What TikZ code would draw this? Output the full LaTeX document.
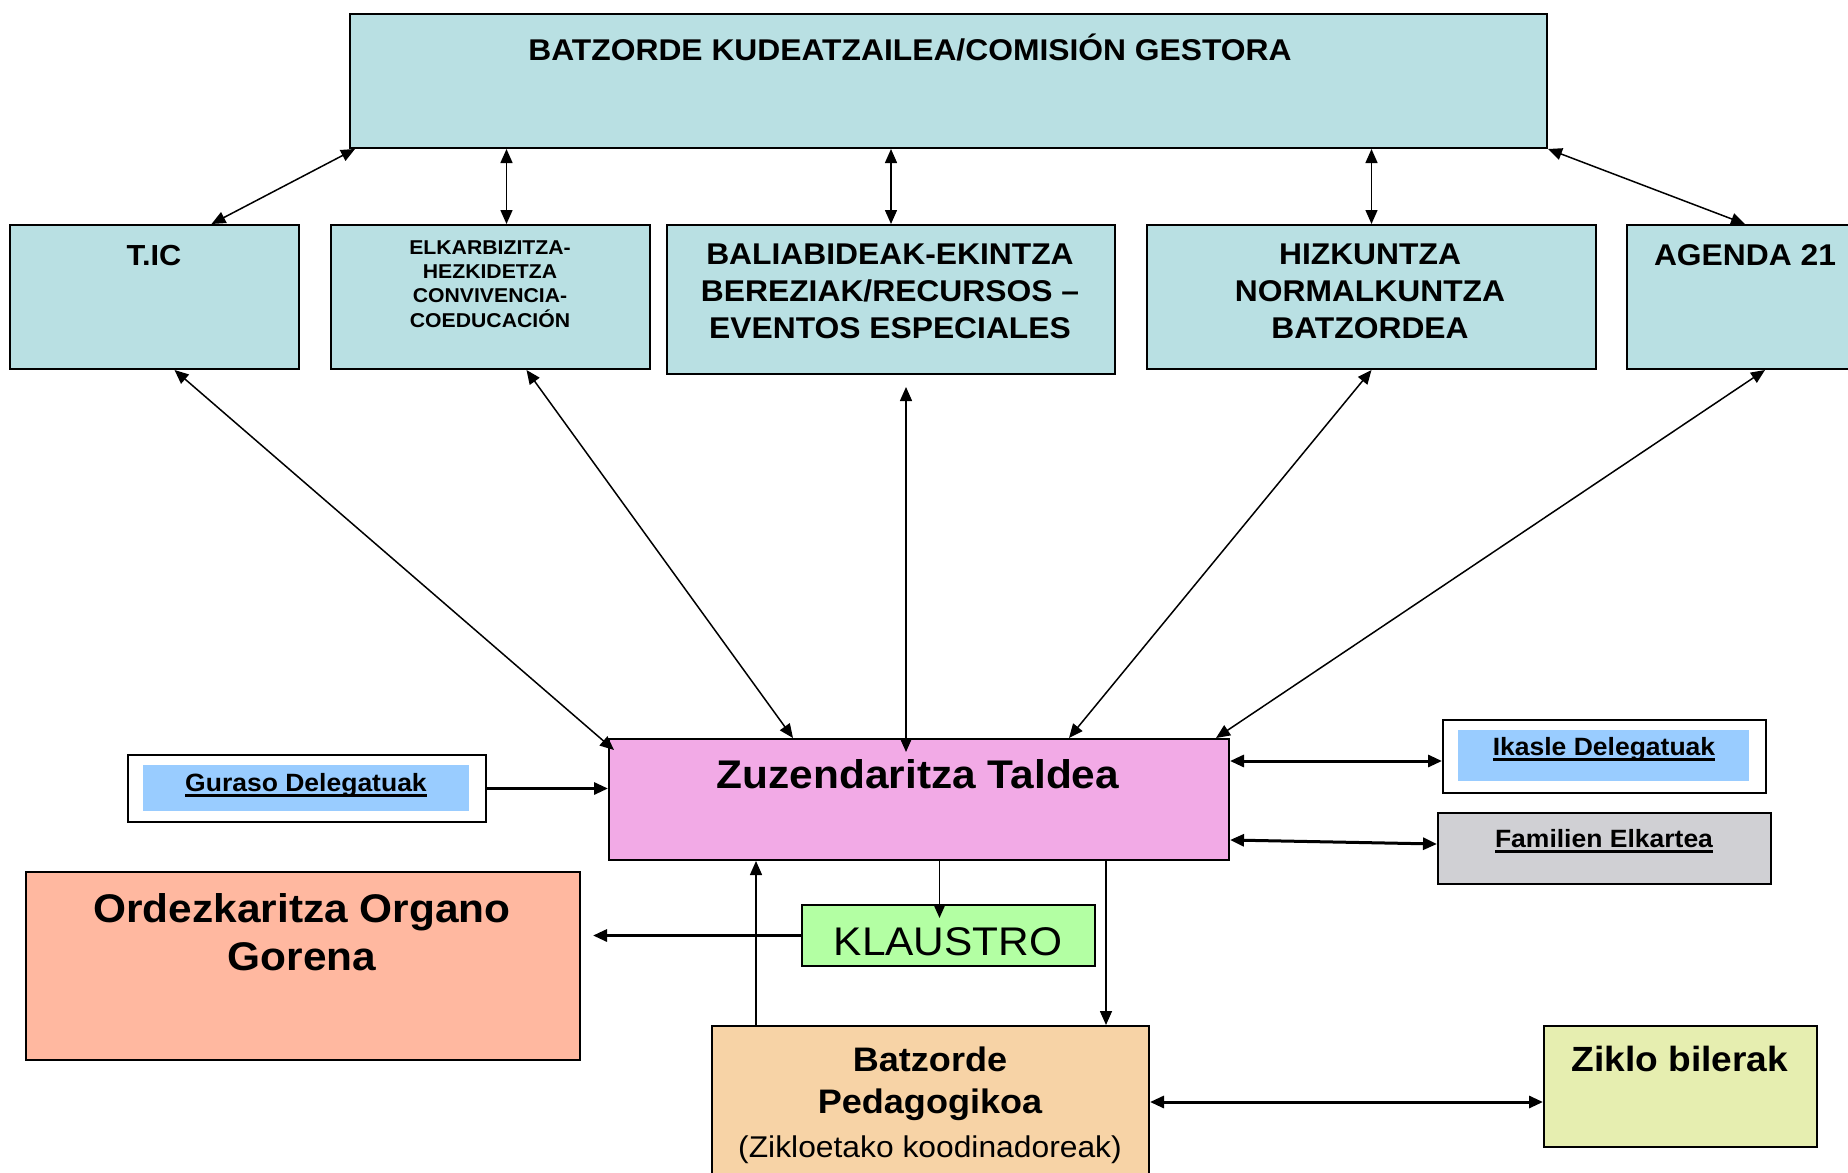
\documentclass[tikz,border=0pt]{standalone}
\usepackage{fontspec}
\setmainfont{Liberation Sans}[FakeStretch=1.06]
\usetikzlibrary{arrows.meta}
\definecolor{cyanbox}{RGB}{185,224,227}
\definecolor{pinkbox}{RGB}{242,170,230}
\definecolor{bluebox}{RGB}{153,204,255}
\definecolor{graybox}{RGB}{208,208,212}
\definecolor{salmonbox}{RGB}{255,184,160}
\definecolor{greenbox}{RGB}{179,255,163}
\definecolor{peachbox}{RGB}{247,211,166}
\definecolor{limebox}{RGB}{230,238,176}
\newcommand{\undl}[1]{\setbox0\hbox{#1}\rlap{\rule[-6pt]{\wd0}{3pt}}\box0}
\tikzset{
  box/.style={draw, line width=2pt, inner sep=0pt, anchor=north west},
  txt/.style={inner sep=0pt, anchor=base, align=center},
  twoway/.style={line width=1.5pt, {Triangle[length=14pt,width=12pt]}-{Triangle[length=14pt,width=12pt]}},
  oneway/.style={line width=1.5pt, -{Triangle[length=14pt,width=12pt]}},
  heavy/.style={line width=3pt}
}
\begin{document}
\begin{tikzpicture}[x=1pt,y=-1pt]
	\clip (0,0) rectangle (1848,1173);
	% boxes
	\node[box, fill=cyanbox, minimum width=1197pt, minimum height=134pt] (gestora) at (349,13) {};
	\node[box, fill=cyanbox, minimum width=289pt, minimum height=144pt] (tic) at (9,224) {};
	\node[box, fill=cyanbox, minimum width=319pt, minimum height=144pt] (elkar) at (330,224) {};
	\node[box, fill=cyanbox, minimum width=448pt, minimum height=149pt] (balia) at (666,224) {};
	\node[box, fill=cyanbox, minimum width=449pt, minimum height=144pt] (hizk) at (1146,224) {};
	\node[box, fill=cyanbox, minimum width=236pt, minimum height=144pt] (agenda) at (1626,224) {};
	\node[box, fill=pinkbox, minimum width=620pt, minimum height=121pt] (zuzen) at (608,738) {};
	\node[box, fill=white, minimum width=358pt, minimum height=67pt] (guraso) at (127,754) {};
	\node[fill=bluebox, inner sep=0pt, anchor=north west, minimum width=326pt, minimum height=46pt] (gurasoin) at (143,765) {};
	\node[box, fill=white, minimum width=323pt, minimum height=73pt] (ikasle) at (1442,719) {};
	\node[fill=bluebox, inner sep=0pt, anchor=north west, minimum width=291pt, minimum height=51pt] (ikaslein) at (1458,730) {};
	\node[box, fill=graybox, minimum width=333pt, minimum height=71pt] (familien) at (1437,812) {};
	\node[box, fill=salmonbox, minimum width=554pt, minimum height=188pt] (ordez) at (25,871) {};
	\node[box, fill=greenbox, minimum width=293pt, minimum height=61pt] (klaustro) at (801,904) {};
	\node[box, fill=peachbox, minimum width=437pt, minimum height=152pt] (batzorde) at (711,1025) {};
	\node[box, fill=limebox, minimum width=273pt, minimum height=121pt] (ziklo) at (1543,1025) {};
	% texts (multi-line nodes sit on their last baseline)
	\node[txt, font=\fontsize{30}{36}\selectfont\bfseries] (gestora-t) at (910,60) {BATZORDE KUDEATZAILEA/COMISIÓN GESTORA};
	\node[txt, font=\fontsize{29}{36.7}\selectfont\bfseries] (tic-t) at (154,265) {T.IC};
	\node[txt, font=\fontsize{20}{24.3}\selectfont\bfseries] (elkar-t) at (490,327) {ELKARBIZITZA-\\HEZKIDETZA\\CONVIVENCIA-\\COEDUCACIÓN};
	\node[txt, font=\fontsize{30}{36.7}\selectfont\bfseries] (balia-t) at (890,338) {BALIABIDEAK-EKINTZA\\BEREZIAK/RECURSOS –\\EVENTOS ESPECIALES};
	\node[txt, font=\fontsize{30}{36.7}\selectfont\bfseries] (hizk-t) at (1370,338) {HIZKUNTZA\\NORMALKUNTZA\\BATZORDEA};
	\node[txt, font=\fontsize{30}{36.7}\selectfont\bfseries] (agenda-t) at (1745,265) {AGENDA 21};
	\node[txt, font=\fontsize{40}{48}\selectfont\bfseries] (zuzen-t) at (918,788) {Zuzendaritza Taldea};
	\node[txt, font=\fontsize{25}{30}\selectfont\bfseries] (guraso-t) at (306,791) {\undl{Guraso Delegatuak}};
	\node[txt, font=\fontsize{25}{30}\selectfont\bfseries] (ikasle-t) at (1604,755) {\undl{Ikasle Delegatuak}};
	\node[txt, font=\fontsize{25}{30}\selectfont\bfseries] (familien-t) at (1604,847) {\undl{Familien Elkartea}};
	\node[txt, font=\fontsize{40}{48}\selectfont\bfseries] (ordez-t) at (302,970) {Ordezkaritza Organo\\Gorena};
	\node[txt, font=\fontsize{40}{48}\selectfont] (klaustro-t) at (948,955) {KLAUSTRO};
	\node[txt, font=\fontsize{34}{42}\selectfont\bfseries] (batzorde-t) at (930,1113) {Batzorde\\Pedagogikoa};
	\node[txt, font=\fontsize{30}{36}\selectfont] (batzorde-s) at (930,1157) {(Zikloetako koodinadoreak)};
	\node[txt, font=\fontsize{35}{42}\selectfont\bfseries] (ziklo-t) at (1680,1071) {Ziklo bilerak};
	% end points
	\coordinate (elkA) at ([xshift=16pt]elkar.north);
	\coordinate (baliaA) at ([shift={(15,12)}]balia.south);
	\coordinate (baliaB) at ([yshift=-14pt]zuzen.north);
	\coordinate (ikasleA) at ([yshift=-4.5pt]ikasle.west);
	\coordinate (klaA) at ([xshift=20.5pt]zuzen.south);
	\coordinate (klaB) at ([yshift=-14pt]klaustro.north);
	\coordinate (ordA) at ([xshift=12pt]ordez.east);
	\coordinate (batA) at ([xshift=45pt]batzorde.north west);
	\coordinate (batB) at ([xshift=-44pt]batzorde.north east);
	% connectors
	\draw[twoway] ([xshift=6pt]gestora.south west) -- ([xshift=57pt]tic.north);
	\draw[twoway] (elkA |- gestora.south) -- (elkA);
	\draw[twoway] (balia.north |- gestora.south) -- (balia.north);
	\draw[twoway] (hizk.north |- gestora.south) -- (hizk.north);
	\draw[twoway] (gestora.south east) -- (agenda.north);
	\draw[twoway] ([xshift=20pt]tic.south) -- ([shift={(6,12)}]zuzen.north west);
	\draw[twoway] ([xshift=36pt]elkar.south) -- ([xshift=-126pt]zuzen.north);
	\draw[twoway] (baliaA) -- (baliaA |- baliaB);
	\draw[twoway] (hizk.south) -- ([xshift=150pt]zuzen.north);
	\draw[twoway] ([xshift=20pt]agenda.south) -- ([xshift=-14pt]zuzen.north east);
	\draw[oneway, heavy] (guraso.east) -- (guraso.east -| zuzen.west);
	\draw[twoway, heavy] (ikasleA -| zuzen.east) -- (ikasleA);
	\draw[twoway, heavy] ([yshift=-40.5pt]zuzen.east) -- ([yshift=4.5pt]familien.west);
	\draw[oneway] (klaA) -- (klaA |- klaB);
	\draw[oneway, heavy] (klaustro.west) -- (klaustro.west -| ordA);
	\draw[oneway] (batA) -- (batA |- zuzen.south);
	\draw[oneway] (batB |- zuzen.south) -- (batB);
	\draw[twoway, heavy] (batzorde.east) -- (batzorde.east -| ziklo.west);
\end{tikzpicture}
\end{document}
